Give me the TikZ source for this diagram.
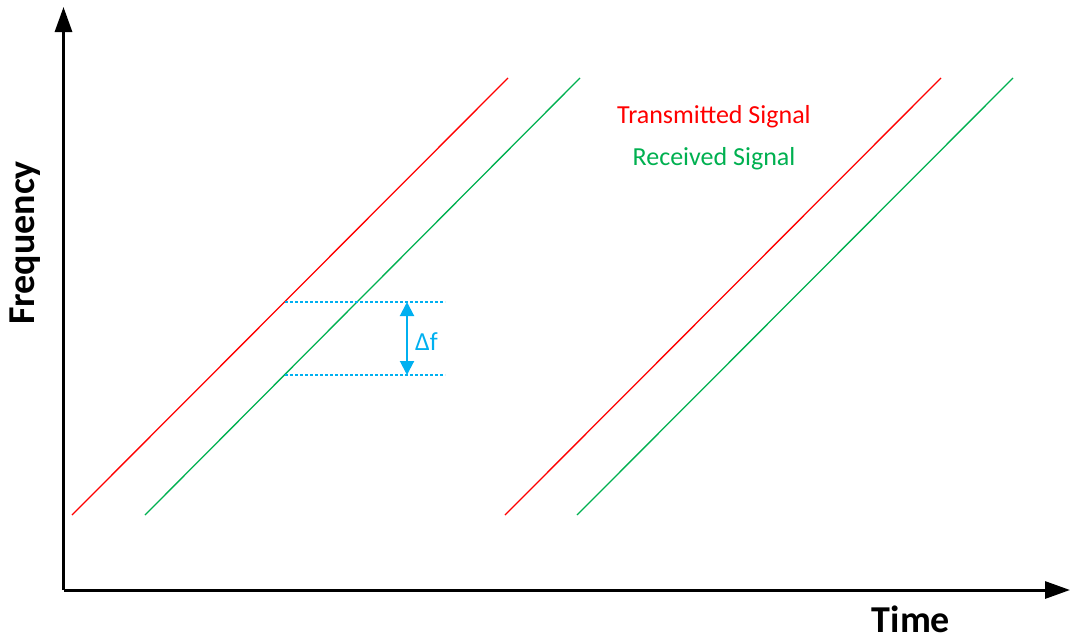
\documentclass[tikz,border=0pt]{standalone}
\usepackage{fontspec}
\setmainfont{Carlito}
\usetikzlibrary{arrows.meta}
\definecolor{sigred}{RGB}{255,0,0}
\definecolor{siggreen}{RGB}{0,176,80}
\definecolor{sigcyan}{RGB}{0,176,240}
\begin{document}
\begin{tikzpicture}[x=1pt,y=-1pt,
  axis/.style={line width=3pt,-{Triangle[length=25pt,width=17pt]}},
  txline/.style={sigred,line width=1.3pt},
  rxline/.style={siggreen,line width=1.3pt},
  guide/.style={sigcyan,line width=1.3pt,dash pattern=on 3pt off 2pt},
  deltaarrow/.style={sigcyan,line width=2pt,{Triangle[length=14pt,width=14pt]}-{Triangle[length=14pt,width=14pt]}},
  lbl/.style={inner sep=0pt,font=\fontsize{26}{30}\selectfont}
]
\useasboundingbox (0,0) rectangle (1070,640);
% axes
\coordinate (O) at (63.5,590);
\coordinate (ytip) at (63.5,7);
\coordinate (xtip) at (1070,590);
\draw[axis] (O) -- (ytip);
\draw[axis] (O) -- (xtip);
% signals
\coordinate (t1a) at (72,515); \coordinate (t1b) at (508,78);
\coordinate (r1a) at (145,515); \coordinate (r1b) at (580,78);
\coordinate (t2a) at (505,515); \coordinate (t2b) at (941,78);
\coordinate (r2a) at (577,515); \coordinate (r2b) at (1013,78);
\draw[txline] (t1a) -- (t1b);
\draw[rxline] (r1a) -- (r1b);
\draw[txline] (t2a) -- (t2b);
\draw[rxline] (r2a) -- (r2b);
% guides
\coordinate (g1a) at (285,302); \coordinate (g1b) at (445,302);
\coordinate (g2a) at (285,375); \coordinate (g2b) at (445,375);
\draw[guide] (g1a) -- (g1b);
\draw[guide] (g2a) -- (g2b);
\coordinate (da) at (407,302); \coordinate (db) at (407,375);
\draw[deltaarrow] (da) -- (db);
\node[lbl,text=sigcyan,anchor=west] (df) at (415,342) {Δf};
% legend
\node[lbl,text=sigred] (tx) at (714,117) {Transmitted Signal};
\node[lbl,text=siggreen] (rx) at (714,159) {Received Signal};
% axis labels
\node[inner sep=0pt,anchor=base,font=\fontsize{38}{44}\bfseries] (time) at (911,632) {Time};
\node[inner sep=0pt,font=\fontsize{38}{44}\bfseries,rotate=90] (freq) at (25,243) {Frequency};
\end{tikzpicture}
\end{document}
